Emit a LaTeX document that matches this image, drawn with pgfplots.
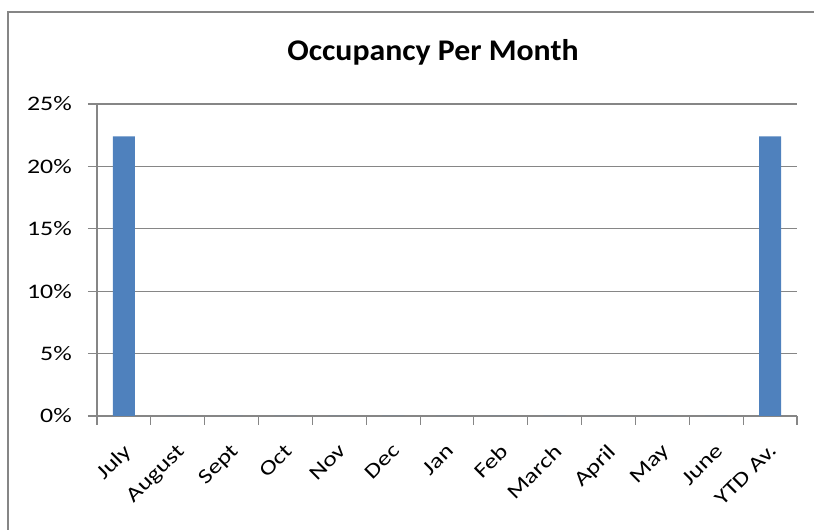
\documentclass[border=0pt]{standalone}
\usepackage{pgfplots}
\pgfplotsset{compat=1.18}
\usepackage{fontspec}
\setmainfont[FakeStretch=1.25]{Carlito}
\newfontfamily\titlefont[FakeStretch=1.06]{Carlito}
\definecolor{barblue}{HTML}{4F81BD}
\definecolor{gridgray}{HTML}{868686}
\begin{document}
\begin{tikzpicture}[x=0.75pt,y=0.75pt]
\useasboundingbox (0,0) rectangle (814,530);
\begin{scope}
\clip (0,0) rectangle (814,530);
\draw[gridgray,line width=1.6pt] (8,518) rectangle (830,-20);
\end{scope}
\node[font=\titlefont\fontsize{22.5pt}{25pt}\selectfont\bfseries, anchor=base, inner sep=0pt] at (433,469) {Occupancy Per Month};
\begin{axis}[
  at={(72.75pt,85.5pt)}, anchor=south west,
  scale only axis, width=525pt, height=234pt,
  xmin=-0.5, xmax=12.5, ymin=0, ymax=25,
  axis x line=bottom, axis y line=left,
  axis line style={gridgray,line width=0.8pt,-},
  ytick={0,5,10,15,20,25},
  yticklabel={\pgfmathprintnumber{\tick}\%},
  ymajorgrids, grid style={gridgray,line width=0.8pt},
  xtick={0,...,12},
  xticklabels={July,August,Sept,Oct,Nov,Dec,Jan,Feb,March,April,May,June,YTD Av.},
  minor xtick={-0.5,0.5,...,12.5},
  tick align=outside,
  major tick length=6.75pt,
  minor tick length=6.75pt,
  xtick style={draw=none},
  minor x tick style={draw=gridgray,line width=0.8pt},
  ytick style={gridgray,line width=0.8pt},
  x tick label style={xshift=-1.5pt, yshift=-13pt, rotate=45, anchor=north east, font=\fontsize{15.5pt}{18pt}\selectfont, inner sep=0pt},
  y tick label style={font=\fontsize{15.5pt}{18pt}\selectfont, inner sep=0pt, xshift=-12pt},
  /pgf/number format/assume math mode=true,
  ybar, bar width=16.5pt,
]
\addplot[fill=barblue, draw=none] coordinates {(0,22.4) (1,0) (2,0) (3,0) (4,0) (5,0) (6,0) (7,0) (8,0) (9,0) (10,0) (11,0) (12,22.4)};
\end{axis}
\end{tikzpicture}
\end{document}
